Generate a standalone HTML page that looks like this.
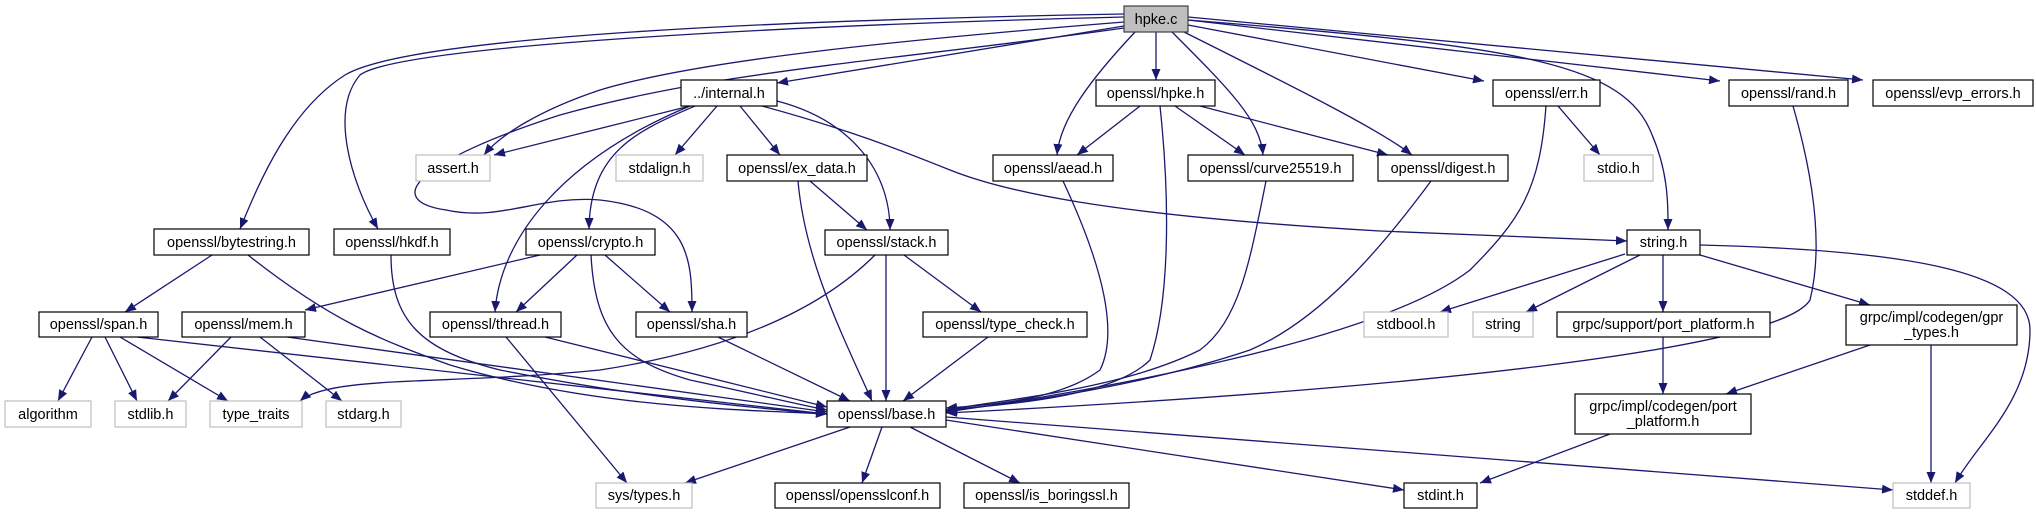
<!DOCTYPE html>
<html><head><meta charset="utf-8"><style>
html,body{margin:0;padding:0;background:#fff;}
svg{display:block;}
text{font-family:"Liberation Sans",sans-serif;font-size:14.5px;fill:#000;}
</style></head><body>
<svg width="2036" height="515" viewBox="0 0 2036 515" xmlns="http://www.w3.org/2000/svg">
<defs><marker id="a" markerWidth="12" markerHeight="9" refX="11" refY="4.5" orient="auto" markerUnits="userSpaceOnUse"><path d="M0,0 L11,4.5 L0,9 z" fill="#191970"/></marker></defs>
<g fill="none" stroke="#191970" stroke-width="1.3" marker-end="url(#a)">
<path d="M1124,14 C900,18 420,30 345,75 C290,110 260,180 240,229"/>
<path d="M1124,17 C800,25 400,45 360,75 C330,110 350,180 378,229"/>
<path d="M1124,22 C900,40 700,60 600,90 C540,110 500,135 484,155"/>
<path d="M1124,28 C900,60 720,70 560,115 C420,160 380,200 446,210 C500,222 540,195 600,200 C690,210 692,260 692,312"/>
<path d="M1124,26 L777,83"/>
<path d="M1135,32 C1090,80 1060,120 1057,155"/>
<path d="M1156,32 L1156,80"/>
<path d="M1172,32 C1230,90 1260,120 1263,155"/>
<path d="M1180,30 C1300,90 1380,130 1412,155"/>
<path d="M1188,25 L1484,81"/>
<path d="M1188,20 L1720,81"/>
<path d="M1188,17 L1863,80"/>
<path d="M1188,20 C1500,45 1620,60 1650,130 C1668,170 1668,200 1668,230"/>
<path d="M690,106 L494,155"/>
<path d="M717,106 L675,155"/>
<path d="M740,106 L780,155"/>
<path d="M777,101 C850,120 890,170 890,230"/>
<path d="M695,106 C640,130 590,150 589,229"/>
<path d="M690,106 C560,160 500,240 495,312"/>
<path d="M762,106 C850,130 900,150 950,170 C1000,190 1100,215 1380,231 L1627,241"/>
<path d="M1140,106 L1077,155"/>
<path d="M1175,106 L1245,155"/>
<path d="M1200,106 L1388,155"/>
<path d="M1160,106 C1170,200 1170,300 1150,360 C1110,400 990,405 946,410"/>
<path d="M810,181 L867,230"/>
<path d="M798,181 C805,260 840,330 872,401"/>
<path d="M540,255 L305,310"/>
<path d="M577,255 L516,312"/>
<path d="M605,255 L670,312"/>
<path d="M591,255 C595,330 620,360 690,380 C760,395 800,405 827,410"/>
<path d="M875,255 C820,310 730,350 600,370 C450,385 330,375 300,401"/>
<path d="M886,255 L886,401"/>
<path d="M904,255 L981,312"/>
<path d="M212,255 L125,312"/>
<path d="M248,255 C330,320 380,340 450,365 C600,410 760,410 827,414"/>
<path d="M391,255 C391,320 420,350 500,370 C650,400 780,410 827,414"/>
<path d="M92,337 L58,401"/>
<path d="M105,337 L137,401"/>
<path d="M120,337 L228,401"/>
<path d="M137,337 L827,414"/>
<path d="M231,337 L168,401"/>
<path d="M260,337 L342,401"/>
<path d="M287,337 L827,412"/>
<path d="M506,337 L627,483"/>
<path d="M545,337 L827,407"/>
<path d="M718,337 L850,401"/>
<path d="M988,337 L903,401"/>
<path d="M1063,181 C1100,260 1120,330 1100,370 C1060,400 990,405 946,408"/>
<path d="M1266,181 C1250,260 1240,320 1200,350 C1120,390 1000,400 946,410"/>
<path d="M1431,181 C1380,250 1320,320 1250,350 C1130,390 1000,405 946,411"/>
<path d="M1558,106 L1600,155"/>
<path d="M1546,106 C1540,190 1520,220 1470,270 C1380,340 1100,390 946,412"/>
<path d="M1793,106 C1820,200 1820,260 1810,300 C1780,350 1400,390 946,413"/>
<path d="M1625,254 L1440,312"/>
<path d="M1640,255 L1526,312"/>
<path d="M1663,255 L1663,312"/>
<path d="M1700,255 L1870,305"/>
<path d="M1700,245 C1900,250 2030,270 2030,330 C2030,400 1980,440 1955,483"/>
<path d="M1663,337 L1663,394"/>
<path d="M1870,345 L1726,394"/>
<path d="M1931,345 L1931,483"/>
<path d="M1610,434 L1480,483"/>
<path d="M850,427 L685,483"/>
<path d="M882,427 L862,483"/>
<path d="M910,427 L1020,483"/>
<path d="M946,420 L1404,490"/>
<path d="M946,417 L1893,490"/>
</g>
<g stroke-width="1.2" fill="#fff">
<rect x="1124" y="6" width="64" height="26" fill="#bfbfbf" stroke="#404040"/>
<rect x="681" y="80" width="96" height="26" stroke="#000"/>
<rect x="1096" y="80" width="119" height="26" stroke="#000"/>
<rect x="1493" y="80" width="107" height="26" stroke="#000"/>
<rect x="1729" y="80" width="119" height="26" stroke="#000"/>
<rect x="1873" y="80" width="160" height="26" stroke="#000"/>
<rect x="416" y="155" width="74" height="26" stroke="#bfbfbf"/>
<rect x="616" y="155" width="87" height="26" stroke="#bfbfbf"/>
<rect x="727" y="155" width="140" height="26" stroke="#000"/>
<rect x="993" y="155" width="120" height="26" stroke="#000"/>
<rect x="1188" y="155" width="165" height="26" stroke="#000"/>
<rect x="1378" y="155" width="130" height="26" stroke="#000"/>
<rect x="1584" y="155" width="69" height="26" stroke="#bfbfbf"/>
<rect x="154" y="229" width="155" height="26" stroke="#000"/>
<rect x="334" y="229" width="116" height="26" stroke="#000"/>
<rect x="526" y="229" width="129" height="26" stroke="#000"/>
<rect x="825" y="230" width="123" height="25" stroke="#000"/>
<rect x="1627" y="230" width="73" height="25" stroke="#000"/>
<rect x="39" y="312" width="119" height="25" stroke="#000"/>
<rect x="182" y="312" width="123" height="25" stroke="#000"/>
<rect x="430" y="312" width="131" height="25" stroke="#000"/>
<rect x="636" y="312" width="111" height="25" stroke="#000"/>
<rect x="923" y="312" width="164" height="25" stroke="#000"/>
<rect x="1364" y="312" width="84" height="25" stroke="#bfbfbf"/>
<rect x="1473" y="312" width="60" height="25" stroke="#bfbfbf"/>
<rect x="1557" y="312" width="213" height="25" stroke="#000"/>
<rect x="1846" y="305" width="171" height="40" stroke="#000"/>
<rect x="5" y="401" width="86" height="26" stroke="#bfbfbf"/>
<rect x="115" y="401" width="71" height="26" stroke="#bfbfbf"/>
<rect x="210" y="401" width="92" height="26" stroke="#bfbfbf"/>
<rect x="326" y="401" width="75" height="26" stroke="#bfbfbf"/>
<rect x="827" y="401" width="119" height="26" stroke="#000"/>
<rect x="1575" y="394" width="176" height="40" stroke="#000"/>
<rect x="596" y="483" width="96" height="25" stroke="#bfbfbf"/>
<rect x="775" y="483" width="165" height="25" stroke="#000"/>
<rect x="964" y="483" width="165" height="25" stroke="#000"/>
<rect x="1404" y="483" width="73" height="25" stroke="#000"/>
<rect x="1893" y="483" width="77" height="25" stroke="#bfbfbf"/>
</g>
<g text-anchor="middle">
<text x="1156" y="24">hpke.c</text>
<text x="729" y="98">../internal.h</text>
<text x="1155.5" y="98">openssl/hpke.h</text>
<text x="1546.5" y="98">openssl/err.h</text>
<text x="1788.5" y="98">openssl/rand.h</text>
<text x="1953" y="98">openssl/evp_errors.h</text>
<text x="453" y="173">assert.h</text>
<text x="659.5" y="173">stdalign.h</text>
<text x="797" y="173">openssl/ex_data.h</text>
<text x="1053" y="173">openssl/aead.h</text>
<text x="1270.5" y="173">openssl/curve25519.h</text>
<text x="1443" y="173">openssl/digest.h</text>
<text x="1618.5" y="173">stdio.h</text>
<text x="231.5" y="247">openssl/bytestring.h</text>
<text x="392" y="247">openssl/hkdf.h</text>
<text x="590.5" y="247">openssl/crypto.h</text>
<text x="886.5" y="247">openssl/stack.h</text>
<text x="1663.5" y="247">string.h</text>
<text x="98.5" y="329">openssl/span.h</text>
<text x="243.5" y="329">openssl/mem.h</text>
<text x="495.5" y="329">openssl/thread.h</text>
<text x="691.5" y="329">openssl/sha.h</text>
<text x="1005" y="329">openssl/type_check.h</text>
<text x="1406" y="329">stdbool.h</text>
<text x="1503" y="329">string</text>
<text x="1663.5" y="329">grpc/support/port_platform.h</text>
<text x="1931.5" y="322">grpc/impl/codegen/gpr</text>
<text x="1931.5" y="337">_types.h</text>
<text x="48" y="419">algorithm</text>
<text x="150.5" y="419">stdlib.h</text>
<text x="256" y="419">type_traits</text>
<text x="363.5" y="419">stdarg.h</text>
<text x="886.5" y="419">openssl/base.h</text>
<text x="1663" y="411">grpc/impl/codegen/port</text>
<text x="1663" y="426">_platform.h</text>
<text x="644" y="500">sys/types.h</text>
<text x="857.5" y="500">openssl/opensslconf.h</text>
<text x="1046.5" y="500">openssl/is_boringssl.h</text>
<text x="1440.5" y="500">stdint.h</text>
<text x="1931.5" y="500">stddef.h</text>
</g>
</svg>
</body></html>
